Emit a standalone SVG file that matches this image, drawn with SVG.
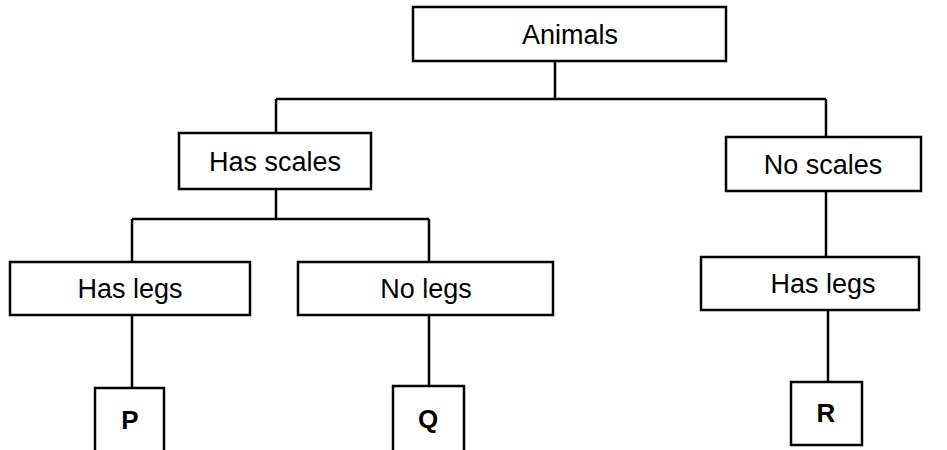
<svg xmlns="http://www.w3.org/2000/svg" width="947" height="450" viewBox="0 0 947 450">
<style>
.box{fill:#fff;stroke:#000;stroke-width:2.5}
.lbl{font-family:"Liberation Sans",Arial,sans-serif;font-size:27px;fill:#000;text-anchor:middle}
.leaf{font-family:"Liberation Sans",Arial,sans-serif;font-size:26px;font-weight:bold;fill:#000;text-anchor:middle}
.c{fill:none;stroke:#000;stroke-width:2.5}
</style>
<rect width="947" height="450" fill="#fff"/>
<g id="connectors">
<path class="c" d="M555 61 V99 M276 99 H826 M276 99 V133 M826 99 V137"/>
<path class="c" d="M276 189 V219 M132 219 H429 M132 219 V262 M429 219 V262"/>
<path class="c" d="M826 191 V257"/>
<path class="c" d="M132 315 V388 M429 315 V386 M828 310 V382"/>
</g>
<g id="animals"><rect class="box" x="413" y="7" width="313" height="54"/><text class="lbl" x="570" y="44">Animals</text></g>
<g id="has-scales"><rect class="box" x="179" y="133" width="192" height="56"/><text class="lbl" x="275" y="171">Has scales</text></g>
<g id="no-scales"><rect class="box" x="726" y="137" width="195" height="54"/><text class="lbl" x="823" y="174">No scales</text></g>
<g id="has-legs-1"><rect class="box" x="10" y="262" width="240" height="53"/><text class="lbl" x="130" y="298">Has legs</text></g>
<g id="no-legs"><rect class="box" x="298" y="262" width="255" height="53"/><text class="lbl" x="426" y="298">No legs</text></g>
<g id="has-legs-2"><rect class="box" x="701" y="257" width="218" height="53"/><text class="lbl" x="823" y="293">Has legs</text></g>
<g id="p"><rect class="box" x="95" y="388" width="69" height="70"/><text class="leaf" x="130" y="429">P</text></g>
<g id="q"><rect class="box" x="393" y="386" width="71" height="70"/><text class="leaf" x="428" y="428">Q</text></g>
<g id="r"><rect class="box" x="791" y="382" width="71" height="63"/><text class="leaf" x="826" y="422">R</text></g>
</svg>
